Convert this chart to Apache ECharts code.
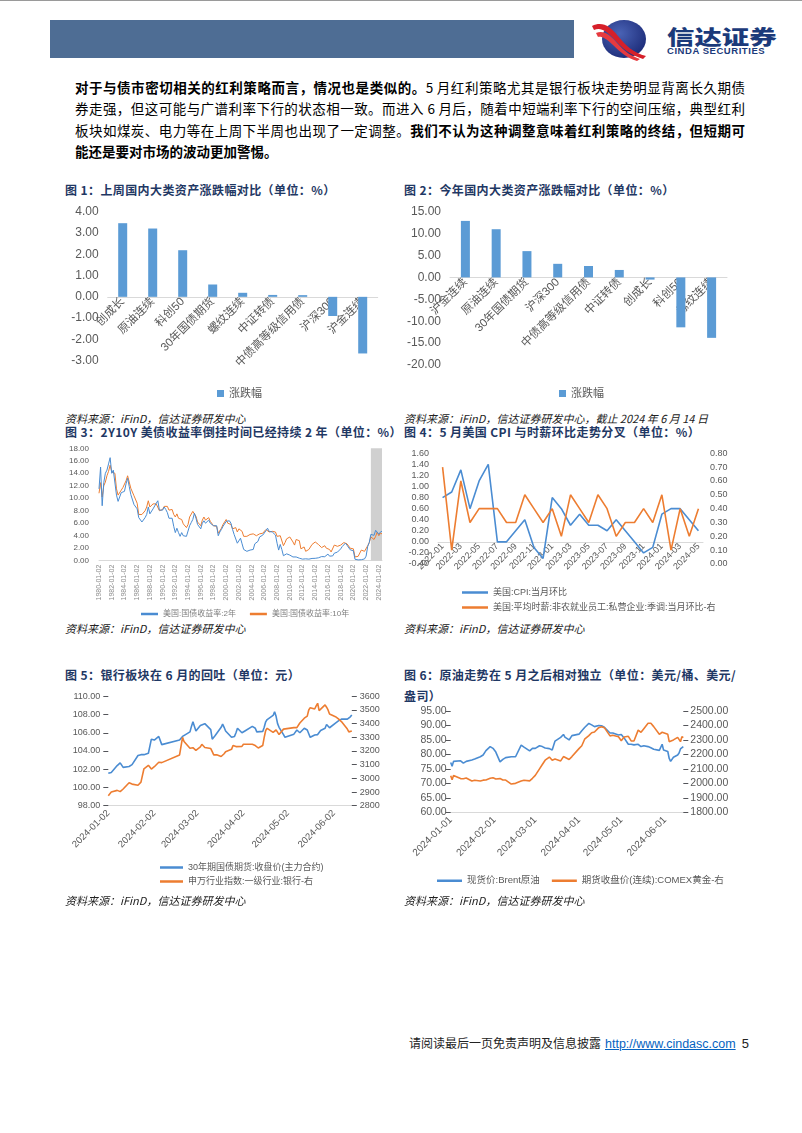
<!DOCTYPE html>
<html><head><meta charset="utf-8">
<script src="https://cdn.jsdelivr.net/npm/echarts@6/dist/echarts.min.js"></script>
<style>
body{margin:0;width:802px;height:1133px;position:relative;background:#fff;font-family:"Noto Sans CJK SC","Liberation Sans",sans-serif;overflow:hidden}
.a{position:absolute}
.topline{left:0;top:0;width:802px;height:1px;background:#9a9a9a}
.bar{left:50px;top:20px;width:524px;height:38px;background:#4E6D94}
.p{left:75px;width:670px;font-size:13.5px;line-height:21.3px;color:#000;white-space:nowrap}
.j{text-align:justify;text-align-last:justify}
.b{font-weight:bold}
.t{font-size:12px;font-weight:bold;color:#1F3864;letter-spacing:0.4px;line-height:16px;white-space:nowrap}
.s{font-size:11px;font-style:italic;color:#222;line-height:14px;white-space:nowrap}
.ch{position:absolute}
.foot{left:409px;top:1034px;font-size:12px;line-height:18px;color:#222;white-space:nowrap}
.foot a{color:#0563C1;text-decoration:underline;font-family:"Liberation Sans",sans-serif;font-size:12.5px;margin-left:4px}
.foot span.n{font-family:"Liberation Sans",sans-serif;font-size:13px;margin-left:6px}
</style></head>
<body>
<div class="a topline"></div>
<div class="a bar"></div>
<svg class="a" style="left:588px;top:18px" width="64" height="44" viewBox="0 0 64 44">
  <defs><radialGradient id="g" cx="40%" cy="35%" r="70%"><stop offset="0" stop-color="#4a63b5"/><stop offset="1" stop-color="#1c2b78"/></radialGradient></defs>
  <ellipse cx="36" cy="21" rx="22" ry="19" fill="url(#g)"/>
  <path d="M4 8 C14 3,22 8,30 18 C38 28,46 35,58 38 L55 41 C42 37,34 30,26 21 C18 12,12 9,6 12 Z" fill="#d6202a"/>
  <path d="M8 15 C16 12,22 17,29 25 C36 33,43 38,52 41 L49 43 C39 40,32 34,25 27 C18 20,13 18,10 19 Z" fill="#e63a3f"/>
</svg>
<div class="a" style="left:667px;top:26.5px;font-size:20px;font-weight:900;color:#1B3A7A;line-height:20px;transform:scaleX(1.37);transform-origin:0 0;white-space:nowrap">信达证券</div>
<div class="a" style="left:667px;top:46px;font-size:9.5px;font-weight:bold;color:#1B3A7A;font-family:'Liberation Sans',sans-serif;line-height:10px;letter-spacing:0.55px;white-space:nowrap">CINDA SECURITIES</div>

<div class="a p j" style="top:77px"><span class="b">对于与债市密切相关的红利策略而言，情况也是类似的。</span>5 月红利策略尤其是银行板块走势明显背离长久期债</div>
<div class="a p j" style="top:98.3px">券走强，但这可能与广谱利率下行的状态相一致。而进入 6 月后，随着中短端利率下行的空间压缩，典型红利</div>
<div class="a p j" style="top:119.6px">板块如煤炭、电力等在上周下半周也出现了一定调整。<span class="b">我们不认为这种调整意味着红利策略的终结，但短期可</span></div>
<div class="a p" style="top:140.9px"><span class="b">能还是要对市场的波动更加警惕。</span></div>

<div class="a t" style="left:65px;top:182px">图 1：上周国内大类资产涨跌幅对比（单位：%）</div>
<div class="a t" style="left:404px;top:182px">图 2：今年国内大类资产涨跌幅对比（单位：%）</div>
<div id="c1" class="ch" style="left:50px;top:198px;width:350px;height:208px"></div>
<div id="c2" class="ch" style="left:400px;top:198px;width:350px;height:208px"></div>
<div class="a s" style="left:65px;top:411px">资料来源：iFinD，信达证券研发中心</div>
<div class="a s" style="left:404px;top:411px">资料来源：iFinD，信达证券研发中心，截止 2024 年 6 月 14 日</div>

<div class="a t" style="left:65px;top:424px">图 3：2Y10Y 美债收益率倒挂时间已经持续 2 年（单位：%）</div>
<div class="a t" style="left:404px;top:424px">图 4：5 月美国 CPI 与时薪环比走势分叉（单位：%）</div>
<div id="c3" class="ch" style="left:50px;top:440px;width:350px;height:180px"></div>
<div id="c4" class="ch" style="left:400px;top:440px;width:350px;height:180px"></div>
<div class="a s" style="left:65px;top:621px">资料来源：iFinD，信达证券研发中心</div>
<div class="a s" style="left:404px;top:621px">资料来源：iFinD，信达证券研发中心</div>

<div class="a t" style="left:65px;top:667px">图 5：银行板块在 6 月的回吐（单位：元）</div>
<div class="a t" style="left:404px;top:667px">图 6：原油走势在 5 月之后相对独立（单位：美元/桶、美元/</div>
<div class="a t" style="left:404px;top:688px">盎司）</div>
<div id="c5" class="ch" style="left:50px;top:685px;width:350px;height:225px"></div>
<div id="c6" class="ch" style="left:400px;top:700px;width:350px;height:190px"></div>
<div class="a s" style="left:65px;top:893px">资料来源：iFinD，信达证券研发中心</div>
<div class="a s" style="left:404px;top:893px">资料来源：iFinD，信达证券研发中心</div>

<div class="a foot">请阅读最后一页免责声明及信息披露<a>http://www.cindasc.com</a><span class="n">5</span></div>

<script>
// ---------- Chart 1 data ----------
const c1Cats = ['创成长','原油连续','科创50','30年国债期货','螺纹连续','中证转债','中债高等级信用债','沪深300','沪金连续'];
const c1Vals = [3.46,3.21,2.19,0.58,0.19,0.09,0.08,-0.90,-2.66];
// ---------- Chart 2 data ----------
const c2Cats = ['沪金连续','原油连续','30年国债期货','沪深300','中债高等级信用债','中证转债','创成长','科创50','螺纹连续'];
const c2Vals = [12.9,11.0,6.0,3.1,2.6,1.7,-0.5,-11.4,-13.8];
// ---------- Chart 3 data (quarterly readings, 1980-01 .. 2024-06) ----------
const c3Y2 = [
 11.5,15.0,8.8,12.5, 14.0,14.5,15.5,16.5, 14.0,14.5,14.3,10.5, 9.5,9.6,10.9,10.9,
 11.1,12.3,13.2,11.9, 10.6,10.6,9.0,8.9, 8.3,6.9,6.9,6.2, 6.3,6.9,7.4,8.6,
 7.5,7.6,8.3,8.3, 9.2,9.6,8.1,8.0, 8.1,8.6,8.2,7.7, 6.8,6.7,6.8,5.5,
 4.5,5.2,4.5,3.9, 4.5,4.0,4.2,3.9, 4.2,5.6,6.1,6.6, 7.6,6.8,5.8,5.8,
 5.1,6.0,6.4,6.0, 5.8,6.5,6.0,5.9, 5.6,5.6,5.6,4.0, 4.6,5.0,5.5,5.8,
 6.3,6.4,6.4,6.0, 5.0,4.2,4.2,2.8, 3.0,3.6,2.7,1.8, 1.7,1.5,1.3,1.7,
 1.8,1.8,2.7,2.6, 3.1,3.8,3.7,4.1, 4.4,4.8,5.2,4.7, 4.8,4.6,4.9,4.1,
 2.8,1.7,2.6,1.8, 0.8,0.9,1.1,1.0, 0.9,1.0,0.6,0.4, 0.6,0.8,0.4,0.25,
 0.25,0.33,0.3,0.23, 0.25,0.24,0.36,0.33, 0.38,0.42,0.46,0.58, 0.66,0.56,0.64,0.64,
 1.06,0.73,0.58,0.77, 1.2,1.27,1.38,1.47, 1.89,2.27,2.52,2.81, 2.48,2.27,1.75,1.63,
 1.58,0.23,0.16,0.13, 0.13,0.16,0.25,0.28, 0.73,2.28,2.92,4.22, 4.41,4.06,4.87,5.03,
 4.23,4.59,4.72];
const c3Y10 = [
 10.8,12.5,10.2,12.0, 12.6,13.6,14.3,15.3, 14.2,14.0,14.0,11.5, 10.5,10.3,11.3,11.7,
 11.8,12.8,13.6,12.6, 11.6,11.4,10.4,10.3, 9.2,7.4,7.2,7.4, 7.1,8.0,8.6,9.6,
 8.6,8.8,9.1,8.8, 9.1,9.2,8.0,8.0, 8.2,8.7,8.5,8.7, 8.1,8.0,8.2,7.4,
 7.0,7.5,6.8,6.6, 6.6,5.9,5.8,5.3, 5.8,7.0,7.3,7.9, 7.8,7.1,6.2,6.0,
 5.6,6.5,7.0,6.5, 6.4,6.9,6.3,6.0, 5.6,5.7,5.5,4.4, 4.7,5.2,5.8,6.0,
 6.6,6.0,6.0,5.8, 5.1,5.2,5.3,4.6, 5.1,5.2,4.7,3.9, 4.0,3.9,3.7,4.2,
 4.1,4.3,4.5,4.0, 4.2,4.3,4.0,4.4, 4.4,5.0,5.1,4.6, 4.7,4.7,5.0,4.6,
 3.9,3.6,4.0,3.8, 2.4,2.9,3.5,3.3, 3.8,3.9,3.0,2.5, 3.4,3.5,3.2,1.9,
 1.9,2.2,1.5,1.7, 1.8,1.8,2.6,2.6, 3.0,2.7,2.6,2.4, 2.1,1.9,2.4,2.0,
 2.3,1.8,1.4,1.6, 2.5,2.3,2.3,2.3, 2.5,2.7,2.9,3.1, 2.7,2.5,2.0,1.7,
 1.9,0.6,0.7,0.7, 0.9,1.7,1.4,1.5, 1.6,2.4,2.9,3.8, 3.8,3.4,3.9,4.6,
 4.0,4.4,4.3];
const c3Dates = [];
for (let y = 1980; y <= 2024; y++) {
  for (const m of ['01','04','07','10']) {
    if (y === 2024 && (m === '07' || m === '10')) continue;
    c3Dates.push(y + '-' + m + '-02');
  }
}
c3Dates.push('2024-06-14');
const c3ShadeFrom = '2022-10-02';
// ---------- Chart 4 data ----------
const c4Months = ['2022-01','2022-02','2022-03','2022-04','2022-05','2022-06','2022-07','2022-08','2022-09','2022-10','2022-11','2022-12',
 '2023-01','2023-02','2023-03','2023-04','2023-05','2023-06','2023-07','2023-08','2023-09','2023-10','2023-11','2023-12',
 '2024-01','2024-02','2024-03','2024-04','2024-05'];
const c4Cpi = [0.8,0.9,1.3,0.6,1.1,1.4,0.0,0.0,0.2,0.4,-0.1,-0.3, 0.8,0.6,0.3,0.5,0.3,0.3,0.2,0.4,0.2,0.0,-0.2,-0.1, 0.5,0.6,0.6,0.4,0.2];
const c4Wage = [0.7,0.1,0.6,0.3,0.4,0.4,0.4,0.3,0.3,0.5,0.4,0.3, 0.4,0.2,0.5,0.4,0.3,0.5,0.4,0.2,0.3,0.3,0.4,0.3, 0.5,0.1,0.4,0.2,0.4];
// ---------- Chart 5 data ----------
const c5Dates = [
 '2024-01-02','2024-01-04','2024-01-08','2024-01-10','2024-01-12','2024-01-16','2024-01-18','2024-01-22','2024-01-24','2024-01-26','2024-01-29','2024-01-31',
 '2024-02-02','2024-02-05','2024-02-07','2024-02-08','2024-02-19','2024-02-21','2024-02-22','2024-02-23','2024-02-26','2024-02-27','2024-02-28','2024-02-29',
 '2024-03-01','2024-03-04','2024-03-05','2024-03-07','2024-03-08','2024-03-11','2024-03-12','2024-03-13','2024-03-14','2024-03-15','2024-03-18','2024-03-19','2024-03-20','2024-03-21','2024-03-25','2024-03-26','2024-03-27','2024-03-28','2024-03-29',
 '2024-04-01','2024-04-02','2024-04-03','2024-04-08','2024-04-10','2024-04-11','2024-04-12','2024-04-15','2024-04-16','2024-04-17','2024-04-18','2024-04-19','2024-04-22','2024-04-23','2024-04-24','2024-04-25','2024-04-26','2024-04-29','2024-04-30',
 '2024-05-06','2024-05-07','2024-05-08','2024-05-09','2024-05-10','2024-05-13','2024-05-14','2024-05-15','2024-05-16','2024-05-17','2024-05-20','2024-05-21','2024-05-22','2024-05-23','2024-05-24','2024-05-27','2024-05-28','2024-05-29','2024-05-30','2024-05-31',
 '2024-06-03','2024-06-04','2024-06-05','2024-06-06','2024-06-07','2024-06-11','2024-06-12','2024-06-13','2024-06-14'];
const c5Bond = [
 101.55,101.65,102.4,102.7,102.2,102.3,102.5,103.5,103.6,103.6,103.75,105.3,
 105.2,105.6,104.7,104.8,105.2,105.6,105.65,105.8,106.1,106.7,107.2,107.3,
 106.2,106.8,107.0,107.0,106.85,106.35,105.3,105.4,105.7,105.9,106.6,106.95,106.6,106.2,105.5,105.45,105.6,106.0,106.5,
 106.0,105.9,106.2,106.7,106.5,106.1,106.15,106.15,106.6,107.2,107.45,107.55,107.9,108.3,107.8,107.0,106.6,105.8,105.5,
 105.85,105.8,106.3,106.4,106.0,106.5,106.6,106.3,105.9,105.5,105.75,105.75,105.8,106.0,106.25,106.5,106.9,107.1,106.55,106.6,
 107.05,107.1,107.3,107.4,107.5,107.5,107.6,107.75,107.95];
const c5Bank = [
 2873,2900,2912,2903,2922,2968,2958,2950,2972,3070,3095,3068,
 3085,3118,3115,3110,3171,3300,3270,3256,3220,3222,3224,3212,
 3205,3230,3249,3226,3222,3218,3195,3172,3180,3173,3160,3151,3180,3195,3212,3240,3254,3232,3228,
 3234,3249,3245,3249,3240,3232,3222,3240,3300,3350,3366,3360,3336,3340,3355,3355,3320,3360,3371,
 3371,3371,3371,3380,3405,3440,3450,3455,3500,3517,3507,3530,3549,3495,3490,3537,3520,3500,3470,3466,
 3451,3446,3435,3427,3415,3360,3340,3335,3346];
const c5Ticks = ['2024-01-02','2024-02-02','2024-03-02','2024-04-02','2024-05-02','2024-06-02'];
// ---------- Chart 6 data ----------
const c6Dates = [
 '2024-01-01','2024-01-02','2024-01-03','2024-01-04','2024-01-08','2024-01-10','2024-01-12','2024-01-16','2024-01-18','2024-01-22','2024-01-24','2024-01-26','2024-01-29','2024-01-31',
 '2024-02-02','2024-02-05','2024-02-07','2024-02-09','2024-02-13','2024-02-14','2024-02-16','2024-02-20','2024-02-22','2024-02-26','2024-02-28',
 '2024-03-01','2024-03-04','2024-03-06','2024-03-08','2024-03-11','2024-03-13','2024-03-15','2024-03-19','2024-03-21','2024-03-22','2024-03-25','2024-03-27',
 '2024-04-01','2024-04-03','2024-04-05','2024-04-08','2024-04-10','2024-04-12','2024-04-15','2024-04-17','2024-04-19','2024-04-23','2024-04-25','2024-04-29',
 '2024-05-01','2024-05-03','2024-05-06','2024-05-08','2024-05-10','2024-05-13','2024-05-15','2024-05-17','2024-05-20','2024-05-22','2024-05-24','2024-05-28','2024-05-30','2024-05-31',
 '2024-06-03','2024-06-04','2024-06-05','2024-06-07','2024-06-10','2024-06-11','2024-06-12','2024-06-13','2024-06-14'];
const c6Brent = [
 77.2,75.9,77.6,77.8,77.8,77.0,77.6,78.1,78.4,79.2,79.8,81.3,82.7,82.1,
 80.8,77.4,78.3,78.9,79.2,79.2,79.2,83.2,82.5,81.2,82.1,
 82.1,83.0,82.7,82.2,82.0,81.5,84.6,85.9,86.9,86.0,85.0,86.5,
 87.0,88.2,89.3,90.7,90.2,89.6,90.0,89.9,89.4,87.4,87.4,86.7,
 86.9,85.7,83.5,83.5,83.3,83.5,82.7,83.0,82.7,82.3,81.8,81.4,83.5,81.5,
 81.0,78.6,77.6,79.0,79.8,80.5,81.9,82.3,82.7];
const c6Gold = [
 2053,2025,2055,2062,2033,2032,2037,2016,2022,2016,2022,2023,2035,2039,
 2030,2033,2023,2023,1995,1989,2000,2016,2021,2017,2035,
 2055,2100,2130,2160,2182,2160,2168,2155,2185,2196,2165,2185,
 2240,2260,2305,2330,2350,2355,2385,2392,2385,2328,2332,2322,
 2295,2320,2325,2293,2293,2368,2353,2378,2415,2415,2392,2339,2353,2345,
 2339,2288,2293,2300,2318,2323,2288,2323,2316];
const c6Ticks = ['2024-01-01','2024-02-01','2024-03-01','2024-04-01','2024-05-01','2024-06-01'];

// ---------- helpers ----------
const FF = "'Liberation Sans','Noto Sans CJK SC',sans-serif";
const GRAY = '#595959';
const BLUE = '#4A8CD2', ORANGE = '#ED7D31', BARC = '#5B9BD5';
const ts = s => new Date(s.replace(/-/g,'/')).getTime();
const p2 = n => (n < 10 ? '0' : '') + n;
const fmtDate = v => { const d = new Date(v); return d.getFullYear() + '-' + p2(d.getMonth()+1) + '-' + p2(d.getDate()); };
const pairs = (dates, vals) => dates.map((d, i) => [ts(d), vals[i]]);
const lineLegend = {icon:'rect', itemHeight:2.5};
const G = o => Object.assign({outerBoundsMode:'none', containLabel:false}, o);
// move the category x axis (line + labels) up to the value 0 of y axis 0
function pinToZero(chart, yMin) {
  const zeroY = chart.convertToPixel({yAxisIndex:0}, 0);
  const botY = chart.convertToPixel({yAxisIndex:0}, yMin);
  chart.setOption({xAxis:{offset: -(botY - zeroY)}});
}

function barOpt(cats, vals, min, max, interval, grid, legendLeft) {
  return {
    animation:false, textStyle:{fontFamily:FF},
    grid: G(grid),
    legend:{data:['涨跌幅'], left:legendLeft, top:185, icon:'rect', itemWidth:7, itemHeight:7, itemGap:4,
      textStyle:{fontSize:11, color:GRAY, fontFamily:FF}},
    xAxis:{type:'category', data:cats, axisLine:{onZero:false, lineStyle:{color:'#d9d9d9'}}, axisTick:{show:false},
      axisLabel:{interval:0, rotate:45, fontSize:11.5, color:GRAY, margin:3}},
    yAxis:{type:'value', min:min, max:max, interval:interval, splitLine:{show:false}, axisLine:{show:false},
      axisLabel:{fontSize:12, color:GRAY, margin:9, formatter:v => v.toFixed(2)}},
    series:[{name:'涨跌幅', type:'bar', data:vals, barWidth:9, itemStyle:{color:BARC}}]
  };
}

const ch1 = echarts.init(document.getElementById('c1'));
ch1.setOption(barOpt(c1Cats, c1Vals, -3, 4, 1, {left:57.7, top:13.7, width:270, height:149}, 162));
pinToZero(ch1, -3);
const ch2 = echarts.init(document.getElementById('c2'));
ch2.setOption(barOpt(c2Cats, c2Vals, -20, 15, 5, {left:50, top:13.7, width:277, height:153.3}, 154));
pinToZero(ch2, -20);

// ---------- Chart 3 ----------
echarts.init(document.getElementById('c3')).setOption({
  animation:false, textStyle:{fontFamily:FF},
  grid:G({left:49, top:8.3, width:283, height:112.4}),
  legend:{data:['美国:国债收益率:2年','美国:国债收益率:10年'], left:86, top:165, itemWidth:17, itemGap:14, ...lineLegend,
    textStyle:{fontSize:8, color:'#7f7f7f', fontFamily:FF}},
  xAxis:{type:'category', data:c3Dates, boundaryGap:false, axisLine:{lineStyle:{color:'#d9d9d9'}}, axisTick:{show:false},
    axisLabel:{rotate:90, fontSize:7, color:'#8c8c8c', margin:4,
      interval:(i, v) => v.slice(5) === '01-02' && (+v.slice(0,4)) % 2 === 0}},
  yAxis:{type:'value', min:0, max:18, interval:2, splitLine:{show:false}, axisLine:{show:false},
    axisLabel:{fontSize:8, color:GRAY, margin:10, formatter:v => v.toFixed(2)}},
  series:[
    {type:'line', data:[], z:1, silent:true, markArea:{silent:true, itemStyle:{color:'#d0d0d0'},
      data:[[{xAxis:c3ShadeFrom},{xAxis:c3Dates[c3Dates.length-1]}]]}},
    {name:'美国:国债收益率:2年', type:'line', data:c3Y2, symbol:'none', z:3, lineStyle:{width:1, color:BLUE}, itemStyle:{color:BLUE}},
    {name:'美国:国债收益率:10年', type:'line', data:c3Y10, symbol:'none', z:2, lineStyle:{width:1, color:ORANGE}, itemStyle:{color:ORANGE}}
  ]
});

// ---------- Chart 4 ----------
const ch4 = echarts.init(document.getElementById('c4'));
ch4.setOption({
  animation:false, textStyle:{fontFamily:FF},
  grid:G({left:38, top:13.3, width:265, height:110.7}),
  legend:{data:['美国:CPI:当月环比','美国:平均时薪:非农就业员工:私营企业:季调:当月环比-右'], orient:'vertical', left:57, top:143,
    itemWidth:26, itemGap:6, ...lineLegend, textStyle:{fontSize:9, color:GRAY, fontFamily:FF}},
  xAxis:{type:'category', data:c4Months, boundaryGap:true, axisLine:{onZero:false, lineStyle:{color:'#d9d9d9'}},
    axisTick:{show:false}, axisLabel:{interval:1, rotate:45, fontSize:9, color:GRAY, margin:3}},
  yAxis:[
    {type:'value', min:-0.4, max:1.6, interval:0.2, splitLine:{show:false}, axisLine:{show:false},
      axisLabel:{fontSize:9, color:GRAY, margin:9, formatter:v => v.toFixed(2)}},
    {type:'value', min:0, max:0.8, interval:0.1, splitLine:{show:false}, axisLine:{show:false},
      axisLabel:{fontSize:9, color:GRAY, margin:7, formatter:v => v.toFixed(2)}}
  ],
  series:[
    {name:'美国:CPI:当月环比', type:'line', data:c4Cpi, symbol:'none', lineStyle:{width:1.6, color:BLUE}, itemStyle:{color:BLUE}},
    {name:'美国:平均时薪:非农就业员工:私营企业:季调:当月环比-右', type:'line', yAxisIndex:1, data:c4Wage, symbol:'none',
      lineStyle:{width:1.6, color:ORANGE}, itemStyle:{color:ORANGE}}
  ]
});
pinToZero(ch4, -0.4);

// ---------- Chart 5 ----------
echarts.init(document.getElementById('c5')).setOption({
  animation:false, textStyle:{fontFamily:FF},
  grid:G({left:58.3, top:11.3, width:243.5, height:109.4}),
  legend:{data:['30年期国债期货:收盘价(主力合约)','申万行业指数:一级行业:银行-右'], orient:'vertical', left:105, top:173,
    itemWidth:23, itemGap:5, ...lineLegend, textStyle:{fontSize:9, color:GRAY, fontFamily:FF}},
  xAxis:{type:'value', min:ts(c5Dates[0]), max:ts(c5Dates[c5Dates.length-1]), splitLine:{show:false},
    axisLine:{lineStyle:{color:'#d9d9d9'}}, axisTick:{show:false},
    axisLabel:{customValues:c5Ticks.map(ts), rotate:45, fontSize:9.5, color:GRAY, margin:6, formatter:v => fmtDate(v), showMinLabel:true, showMaxLabel:true}},
  yAxis:[
    {type:'value', min:98, max:110, interval:2, splitLine:{show:false}, axisLine:{show:false},
      axisLabel:{fontSize:9, color:GRAY, margin:8, formatter:v => v.toFixed(2)}},
    {type:'value', min:2800, max:3600, interval:100, splitLine:{show:false}, axisLine:{show:false},
      axisLabel:{fontSize:9, color:GRAY, margin:8, formatter:v => String(v)}}
  ],
  series:[
    {name:'30年期国债期货:收盘价(主力合约)', type:'line', data:pairs(c5Dates, c5Bond), symbol:'none', lineStyle:{width:1.6, color:BLUE}, itemStyle:{color:BLUE}},
    {name:'申万行业指数:一级行业:银行-右', type:'line', yAxisIndex:1, data:pairs(c5Dates, c5Bank), symbol:'none', lineStyle:{width:1.6, color:ORANGE}, itemStyle:{color:ORANGE}}
  ]
});

// ---------- Chart 6 ----------
echarts.init(document.getElementById('c6')).setOption({
  animation:false, textStyle:{fontFamily:FF},
  grid:G({left:50.7, top:11, width:232.6, height:101.3}),
  legend:{data:['现货价:Brent原油','期货收盘价(连续):COMEX黄金-右'], left:32, top:171, itemWidth:25, itemGap:12, ...lineLegend,
    textStyle:{fontSize:9.5, color:GRAY, fontFamily:FF}},
  xAxis:{type:'value', min:ts(c6Ticks[0]), max:ts(c6Dates[c6Dates.length-1]), splitLine:{show:false},
    axisLine:{lineStyle:{color:'#d9d9d9'}}, axisTick:{show:false},
    axisLabel:{customValues:c6Ticks.map(ts), rotate:45, fontSize:10, color:GRAY, margin:6, formatter:v => fmtDate(v), showMinLabel:true, showMaxLabel:true}},
  yAxis:[
    {type:'value', min:60, max:95, interval:5, splitLine:{show:false}, axisLine:{show:false},
      axisLabel:{fontSize:10.5, color:GRAY, margin:4, formatter:v => v.toFixed(2)}},
    {type:'value', min:1800, max:2500, interval:100, splitLine:{show:false}, axisLine:{show:false},
      axisLabel:{fontSize:10.5, color:GRAY, margin:7, formatter:v => v.toFixed(2)}}
  ],
  series:[
    {name:'现货价:Brent原油', type:'line', data:pairs(c6Dates, c6Brent), symbol:'none', lineStyle:{width:1.6, color:BLUE}, itemStyle:{color:BLUE}},
    {name:'期货收盘价(连续):COMEX黄金-右', type:'line', yAxisIndex:1, data:pairs(c6Dates, c6Gold), symbol:'none', lineStyle:{width:1.6, color:ORANGE}, itemStyle:{color:ORANGE}}
  ]
});
</script>
</body></html>
